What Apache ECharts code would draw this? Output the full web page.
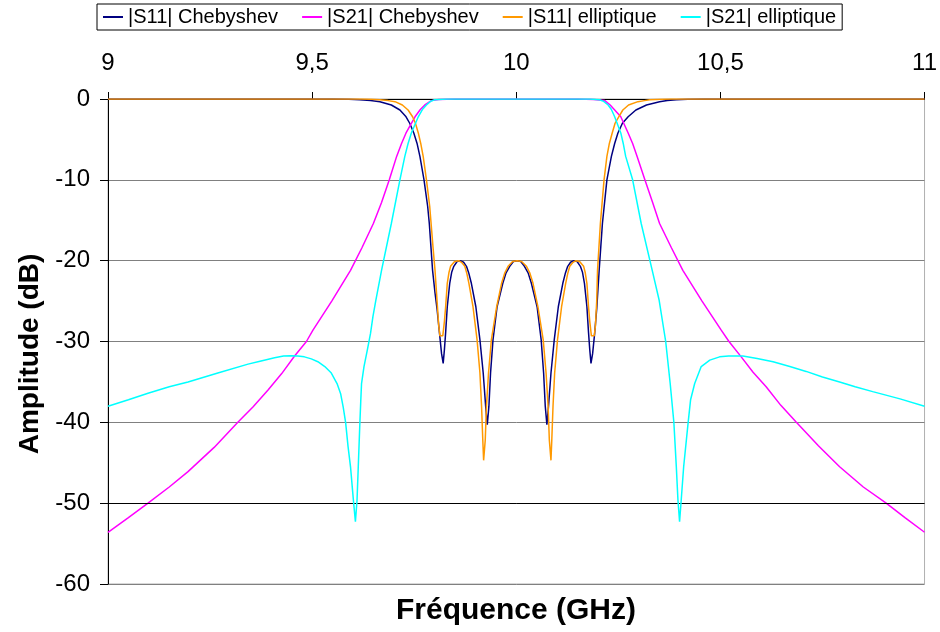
<!DOCTYPE html>
<html>
<head>
<meta charset="utf-8">
<script src="https://cdn.jsdelivr.net/npm/echarts@6/dist/echarts.min.js"></script>
<style>
  html, body { margin: 0; padding: 0; background: #fff; }
  #chart-container { width: 940px; height: 632px; }
</style>
</head>
<body>
<div id="chart-container"></div>
<script>
// values, [GHz, dB]
var s11Cheby = [
  [9.0, 0], [9.55, 0], [9.59, -0.03], [9.617, -0.1], [9.643, -0.2], [9.666, -0.33], [9.694, -0.74],
  [9.715, -1.36], [9.730, -2.2], [9.739, -3.0], [9.749, -4.2], [9.757, -5.5], [9.764, -7.1],
  [9.774, -10], [9.783, -13.3], [9.787, -15.4], [9.791, -18.3], [9.795, -21.2], [9.801, -24],
  [9.806, -26], [9.812, -29], [9.817, -31.5], [9.821, -32.7], [9.824, -31], [9.827, -28.9],
  [9.831, -25.7], [9.837, -22.8], [9.842, -21.4], [9.847, -20.7], [9.855, -20.1], [9.863, -20.0],
  [9.871, -20.2], [9.878, -20.7], [9.884, -21.6], [9.890, -22.8], [9.901, -25.7], [9.911, -29.8],
  [9.919, -33.9], [9.925, -38.0], [9.929, -40.3], [9.933, -38.0], [9.937, -33.9], [9.943, -29.8],
  [9.953, -25.7], [9.967, -22.8], [9.975, -21.5], [9.984, -20.7], [9.993, -20.1], [10.002, -20.0],
  [10.011, -20.1], [10.020, -20.7], [10.029, -21.5], [10.037, -22.8], [10.051, -25.7], [10.061, -29.8],
  [10.067, -33.9], [10.071, -38.0], [10.075, -40.3], [10.079, -38.0], [10.085, -33.9], [10.093, -29.8],
  [10.103, -25.7], [10.114, -22.8], [10.120, -21.6], [10.126, -20.7], [10.133, -20.2], [10.141, -20.0],
  [10.149, -20.1], [10.157, -20.7], [10.162, -21.4], [10.167, -22.8], [10.173, -25.7], [10.177, -28.9],
  [10.180, -31], [10.183, -32.7], [10.187, -31.5], [10.192, -29], [10.197, -26], [10.203, -21.2],
  [10.207, -18.3], [10.211, -15.4], [10.222, -10], [10.233, -7.1], [10.241, -5.5], [10.249, -4.2],
  [10.260, -3.0], [10.274, -2.2], [10.293, -1.36], [10.319, -0.74], [10.351, -0.33], [10.370, -0.2],
  [10.392, -0.1], [10.42, -0.03], [10.46, 0], [11.0, 0]
];

var s21Cheby = [
  [9.0, -53.6], [9.05, -51.8], [9.098, -50.0], [9.15, -48.0], [9.196, -46.1], [9.26, -43.1],
  [9.318, -40.0], [9.355, -38.1], [9.392, -36.0], [9.425, -34.0], [9.457, -31.8], [9.486, -30.0],
  [9.502, -28.6], [9.548, -25.0], [9.594, -21.2], [9.622, -18.4], [9.650, -15.4], [9.670, -12.8],
  [9.689, -10], [9.707, -7.1], [9.719, -5.5], [9.730, -4.2], [9.752, -2.2], [9.765, -1.3],
  [9.776, -0.74], [9.792, -0.2], [9.81, -0.05], [9.85, 0], [10.15, 0], [10.19, -0.05],
  [10.217, -0.2], [10.230, -0.74], [10.240, -1.3], [10.256, -2.2], [10.274, -4.2], [10.285, -5.5],
  [10.296, -7.1], [10.315, -10], [10.334, -12.8], [10.351, -15.4], [10.380, -18.4], [10.408, -21.2],
  [10.455, -25.0], [10.502, -28.6], [10.521, -30.0], [10.551, -31.9], [10.580, -33.8], [10.612, -35.6],
  [10.648, -37.9], [10.686, -40.0], [10.740, -42.9], [10.792, -45.5], [10.850, -48.0], [10.906, -50.0],
  [10.952, -51.8], [11.0, -53.6]
];

var s11Ellip = [
  [9.0, 0], [9.62, 0], [9.645, -0.04], [9.666, -0.1], [9.686, -0.2], [9.703, -0.33], [9.721, -0.74],
  [9.735, -1.36], [9.746, -2.2], [9.753, -3.0], [9.760, -4.2], [9.766, -5.5], [9.772, -7.1],
  [9.780, -10], [9.788, -13.3], [9.796, -18.3], [9.801, -21.2], [9.806, -25], [9.810, -28],
  [9.813, -29.3], [9.820, -29.3], [9.824, -27.5], [9.827, -25.7], [9.831, -22.8], [9.835, -21.5],
  [9.839, -20.7], [9.849, -20.1], [9.859, -20.0], [9.866, -20.2], [9.874, -20.7], [9.879, -21.6],
  [9.884, -22.8], [9.894, -25.7], [9.904, -29.8], [9.911, -33.9], [9.915, -38.0], [9.918, -42.2],
  [9.920, -44.7], [9.924, -42.2], [9.927, -38.0], [9.932, -33.9], [9.939, -29.8], [9.952, -25.7],
  [9.964, -22.8], [9.972, -21.5], [9.980, -20.7], [9.991, -20.1], [10.002, -20.0], [10.013, -20.1],
  [10.025, -20.7], [10.033, -21.5], [10.041, -22.8], [10.053, -25.7], [10.066, -29.8], [10.073, -33.9],
  [10.078, -38.0], [10.081, -42.2], [10.085, -44.7], [10.087, -42.2], [10.090, -38.0], [10.094, -33.9],
  [10.101, -29.8], [10.111, -25.7], [10.121, -22.8], [10.126, -21.6], [10.131, -20.7], [10.139, -20.2],
  [10.146, -20.0], [10.155, -20.1], [10.165, -20.7], [10.169, -21.5], [10.173, -22.8], [10.177, -25.7],
  [10.180, -27.5], [10.184, -29.3], [10.191, -29.3], [10.194, -28], [10.197, -25], [10.199, -21.2],
  [10.206, -15.4], [10.215, -10], [10.222, -7.1], [10.228, -5.5], [10.235, -4.2], [10.242, -3.0],
  [10.251, -2.2], [10.261, -1.36], [10.275, -0.74], [10.298, -0.33], [10.314, -0.2], [10.327, -0.1],
  [10.355, -0.04], [10.38, 0], [11.0, 0]
];

var s21Ellip = [
  [9.0, -38.0], [9.05, -37.2], [9.098, -36.4], [9.15, -35.6], [9.196, -35.0], [9.269, -33.9],
  [9.343, -32.8], [9.375, -32.4], [9.408, -32.0], [9.430, -31.8], [9.449, -31.75], [9.465, -31.8],
  [9.481, -31.9], [9.498, -32.15], [9.514, -32.5], [9.531, -33.1], [9.547, -33.9], [9.561, -35.2],
  [9.570, -36.5], [9.576, -38.1], [9.582, -40], [9.588, -43], [9.594, -45.5], [9.601, -49.6],
  [9.606, -52.3], [9.610, -49.6], [9.613, -45.5], [9.617, -40], [9.619, -37.5], [9.621, -35.2],
  [9.627, -33.1], [9.635, -31.1], [9.643, -29.0], [9.649, -26.9], [9.656, -24.9], [9.670, -21.2],
  [9.694, -15.4], [9.715, -10], [9.727, -7.1], [9.735, -5.5], [9.743, -4.2], [9.760, -2.2],
  [9.770, -1.3], [9.780, -0.74], [9.790, -0.3], [9.800, -0.1], [9.83, 0], [10.18, 0],
  [10.204, -0.1], [10.214, -0.3], [10.225, -0.74], [10.233, -1.3], [10.241, -2.2], [10.256, -4.2],
  [10.262, -5.5], [10.268, -7.1], [10.285, -10], [10.306, -15.4], [10.333, -21.2], [10.350, -24.9],
  [10.366, -30], [10.377, -35.2], [10.386, -40], [10.392, -45.5], [10.396, -49.6], [10.400, -52.3],
  [10.404, -49.6], [10.410, -45.5], [10.421, -40], [10.427, -37.2], [10.437, -35.2], [10.453, -33.1],
  [10.474, -32.3], [10.498, -31.9], [10.520, -31.8], [10.555, -31.8], [10.590, -32.1], [10.629, -32.5],
  [10.670, -33.1], [10.710, -33.7], [10.750, -34.4], [10.792, -35.0], [10.830, -35.6], [10.873, -36.2],
  [10.940, -37.1], [11.0, -38.0]
];

var seriesNames = ['|S11| Chebyshev', '|S21| Chebyshev', '|S11| elliptique', '|S21| elliptique'];
var seriesColors = ['#000080', '#FF00FF', '#FF9900', '#00FFFF'];
var seriesData = [s11Cheby, s21Cheby, s11Ellip, s21Ellip];

var FONT = 'Liberation Sans, Arial, sans-serif';

var dom = document.getElementById('chart-container');
var myChart = echarts.init(dom, null, { renderer: 'canvas' });

var series = seriesData.map(function (d, i) {
  return {
    name: seriesNames[i],
    type: 'line',
    data: d,
    showSymbol: false,
    symbol: 'none',
    lineStyle: { color: seriesColors[i], width: 1.5 },
    itemStyle: { color: seriesColors[i] },
    z: 3 + i,
    animation: false
  };
});
// the -50 gridline is drawn black in the original
series[0].markLine = {
  silent: true,
  symbol: 'none',
  label: { show: false },
  lineStyle: { color: '#000', width: 1, type: 'solid' },
  data: [{ yAxis: -50 }]
};

var option = {
  animation: false,
  backgroundColor: '#fff',
  legend: {
    data: seriesNames.map(function (n) { return { name: n, icon: 'rect' }; }),
    left: 97,
    top: 4,
    padding: [3, 6],
    itemGap: 24,
    itemWidth: 20,
    itemHeight: 2,
    borderColor: '#000',
    borderWidth: 1,
    textStyle: { fontFamily: FONT, fontSize: 20, color: '#000' }
  },
  grid: {
    left: 108,
    right: 15,
    top: 99,
    bottom: 48,
    show: true,
    borderColor: '#b0b0b0',
    borderWidth: 1
  },
  xAxis: {
    type: 'value',
    position: 'top',
    min: 9,
    max: 11,
    interval: 0.5,
    axisLine: { show: true, lineStyle: { color: '#000', width: 1 } },
    axisTick: { show: true, inside: false, length: 7, lineStyle: { color: '#000' } },
    splitLine: { show: false },
    axisLabel: {
      margin: 24,
      fontFamily: FONT,
      fontSize: 24,
      color: '#000',
      formatter: function (v) { return String(v).replace('.', ','); }
    }
  },
  yAxis: {
    type: 'value',
    min: -60,
    max: 0,
    interval: 10,
    axisLine: { show: true, onZero: false, lineStyle: { color: '#000', width: 1 } },
    axisTick: { show: true, length: 8, lineStyle: { color: '#000' } },
    splitLine: { show: true, lineStyle: { color: '#808080', width: 1 } },
    axisLabel: { margin: 18, fontFamily: FONT, fontSize: 24, color: '#000' }
  },
  graphic: [{
    type: 'text',
    x: 30,
    y: 354,
    rotation: Math.PI / 2,
    style: {
      text: 'Amplitude (dB)',
      font: 'bold 28px ' + FONT,
      fill: '#000',
      align: 'center',
      verticalAlign: 'middle'
    }
  }, {
    type: 'text',
    x: 516,
    y: 611,
    style: {
      text: 'Fréquence (GHz)',
      font: 'bold 30px ' + FONT,
      fill: '#000',
      align: 'center',
      verticalAlign: 'middle'
    }
  }],
  series: series
};

myChart.setOption(option);
window.addEventListener('resize', myChart.resize);
</script>
</body>
</html>
